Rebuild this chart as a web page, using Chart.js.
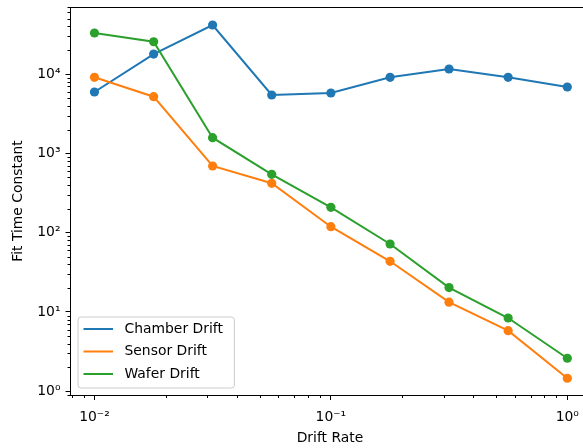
<!DOCTYPE html>
<html>
<head>
<meta charset="utf-8">
<script src="https://cdn.jsdelivr.net/npm/chart.js@4.4.0/dist/chart.umd.min.js"></script>
<style>
  html, body { margin: 0; padding: 0; background: #fff; overflow: hidden; }
  /* the right spine sits just past the visible edge */
  #frame { width: 583px; height: 448px; overflow: hidden; }
</style>
</head>
<body>
<div id="frame"><canvas id="myChart" width="594" height="448"></canvas></div>
<script>
const driftRates = [0.01, 0.0178, 0.0316, 0.0562, 0.1, 0.178, 0.316, 0.562, 1.0];
const chamberDrift = [5950, 17900, 41600, 5450, 5780, 9120, 11600, 9120, 6880];
const sensorDrift = [9120, 5190, 694, 420, 119, 43.6, 13.3, 5.81, 1.46];
const waferDrift = [33000, 25600, 1580, 545, 209, 72, 20.3, 8.4, 2.61];
const seriesNames = ["Chamber Drift", "Sensor Drift", "Wafer Drift"];
const seriesColors = ["#1f77b4", "#ff7f0e", "#2ca02c"];
const xLimits = [0.00792, 1.24];
const yLimits = [0.898, 70200];

const FONT = "'DejaVu Sans', sans-serif";
const SUP = { "-": "\u207B", "0": "\u2070", "1": "\u00B9", "2": "\u00B2", "3": "\u00B3",
  "4": "\u2074", "5": "\u2075", "6": "\u2076", "7": "\u2077", "8": "\u2078", "9": "\u2079" };

function decadeLabel(v) {
  const e = String(Math.round(Math.log10(v)));
  return "10" + e.split("").map(c => SUP[c]).join("");
}

// 1..9 x 10^n ticks, decades flagged as major
function logTicks(min, max) {
  const ticks = [];
  for (let e = Math.floor(Math.log10(min)); e <= Math.ceil(Math.log10(max)); e++) {
    for (let m = 1; m <= 9; m++) {
      const v = m * Math.pow(10, e);
      if (v >= min && v <= max) ticks.push({ value: v, major: m === 1 });
    }
  }
  return ticks;
}

function makeSeries(values, i) {
  return {
    label: seriesNames[i],
    data: driftRates.map((x, k) => ({ x: x, y: values[k] })),
    borderColor: seriesColors[i],
    backgroundColor: seriesColors[i],
    borderWidth: 2,
    pointRadius: 4.6,
    pointBorderWidth: 0,
    order: 2 - i, // later series on top
  };
}

function axisOptions(limits, fit) {
  return {
    type: "logarithmic",
    min: limits[0],
    max: limits[1],
    afterBuildTicks: s => { s.ticks = logTicks(limits[0], limits[1]); },
    afterFit: s => {
      fit(s);
      // no extra room for overhanging tick labels
      s.paddingTop = s.paddingBottom = s.paddingLeft = s.paddingRight = 0;
    },
    border: { color: "#000", width: 1 },
    grid: {
      drawOnChartArea: false,
      tickLength: 5,
      tickWidth: 1,
      tickColor: c => (c.tick && c.tick.major ? "#000" : "rgba(0,0,0,0)"),
    },
    ticks: {
      autoSkip: false,
      maxRotation: 0,
      color: "#000",
      font: { family: FONT, size: 13.9 },
      callback: (v, i, ticks) => (ticks[i].major ? decadeLabel(v) : ""),
    },
  };
}

// short minor ticks, top spine and the legend box
const decorations = {
  id: "decorations",
  afterDraw(chart) {
    const ctx = chart.ctx;
    const area = chart.chartArea;
    const xs = chart.scales.x, ys = chart.scales.y;
    ctx.save();
    ctx.strokeStyle = "#000";
    ctx.lineWidth = 1;
    ctx.beginPath();
    xs.ticks.filter(t => !t.major).forEach(t => {
      const px = Math.round(xs.getPixelForValue(t.value)) + 0.5;
      ctx.moveTo(px, area.bottom);
      ctx.lineTo(px, area.bottom + 3);
    });
    ys.ticks.filter(t => !t.major).forEach(t => {
      const py = Math.round(ys.getPixelForValue(t.value)) + 0.5;
      ctx.moveTo(area.left, py);
      ctx.lineTo(area.left - 3, py);
    });
    ctx.stroke();
    ctx.beginPath();
    ctx.moveTo(area.left, Math.round(area.top) + 0.5);
    ctx.lineTo(area.right, Math.round(area.top) + 0.5);
    ctx.stroke();

    // legend, lower left corner of the axes
    ctx.font = "13.9px " + FONT;
    const textW = Math.max(...seriesNames.map(n => ctx.measureText(n).width));
    const bx = area.left + 7.5, bw = textW + 58, bh = 71;
    const by = area.bottom - 7 - bh;
    const r = 3;
    ctx.beginPath();
    ctx.moveTo(bx + r, by);
    ctx.arcTo(bx + bw, by, bx + bw, by + bh, r);
    ctx.arcTo(bx + bw, by + bh, bx, by + bh, r);
    ctx.arcTo(bx, by + bh, bx, by, r);
    ctx.arcTo(bx, by, bx + bw, by, r);
    ctx.closePath();
    ctx.fillStyle = "rgba(255,255,255,0.8)";
    ctx.fill();
    ctx.strokeStyle = "#cccccc";
    ctx.stroke();

    ctx.textBaseline = "middle";
    ctx.textAlign = "left";
    seriesNames.forEach((name, i) => {
      const cy = by + 12 + i * 22.5;
      ctx.strokeStyle = seriesColors[i];
      ctx.lineWidth = 2;
      ctx.beginPath();
      ctx.moveTo(bx + 5.5, cy);
      ctx.lineTo(bx + 35, cy);
      ctx.stroke();
      ctx.fillStyle = "#000";
      ctx.fillText(name, bx + 46.5, cy);
    });
    ctx.restore();
  },
};

const xAxis = axisOptions(xLimits, s => { s.height = 53; });
xAxis.ticks.padding = 9;
xAxis.title = { display: true, text: "Drift Rate", color: "#000",
  font: { family: FONT, size: 13.9 }, padding: { top: 0, bottom: 1 } };

const yAxis = axisOptions(yLimits, s => { s.width = 70.5; });
yAxis.ticks.padding = 5;
yAxis.title = { display: true, text: "Fit Time Constant", color: "#000",
  font: { family: FONT, size: 13.9 }, padding: { top: 10, bottom: 0 } };

const ctx = document.getElementById("myChart").getContext("2d");

new Chart(ctx, {
  type: "line",
  data: {
    datasets: [
      makeSeries(chamberDrift, 0),
      makeSeries(sensorDrift, 1),
      makeSeries(waferDrift, 2),
    ],
  },
  options: {
    responsive: false,
    animation: false,
    layout: { padding: { top: 7, right: 0, left: 0, bottom: 0 } },
    plugins: {
      legend: { display: false },
      tooltip: { enabled: false },
    },
    scales: { x: xAxis, y: yAxis },
  },
  plugins: [decorations],
});
</script>
</body>
</html>
